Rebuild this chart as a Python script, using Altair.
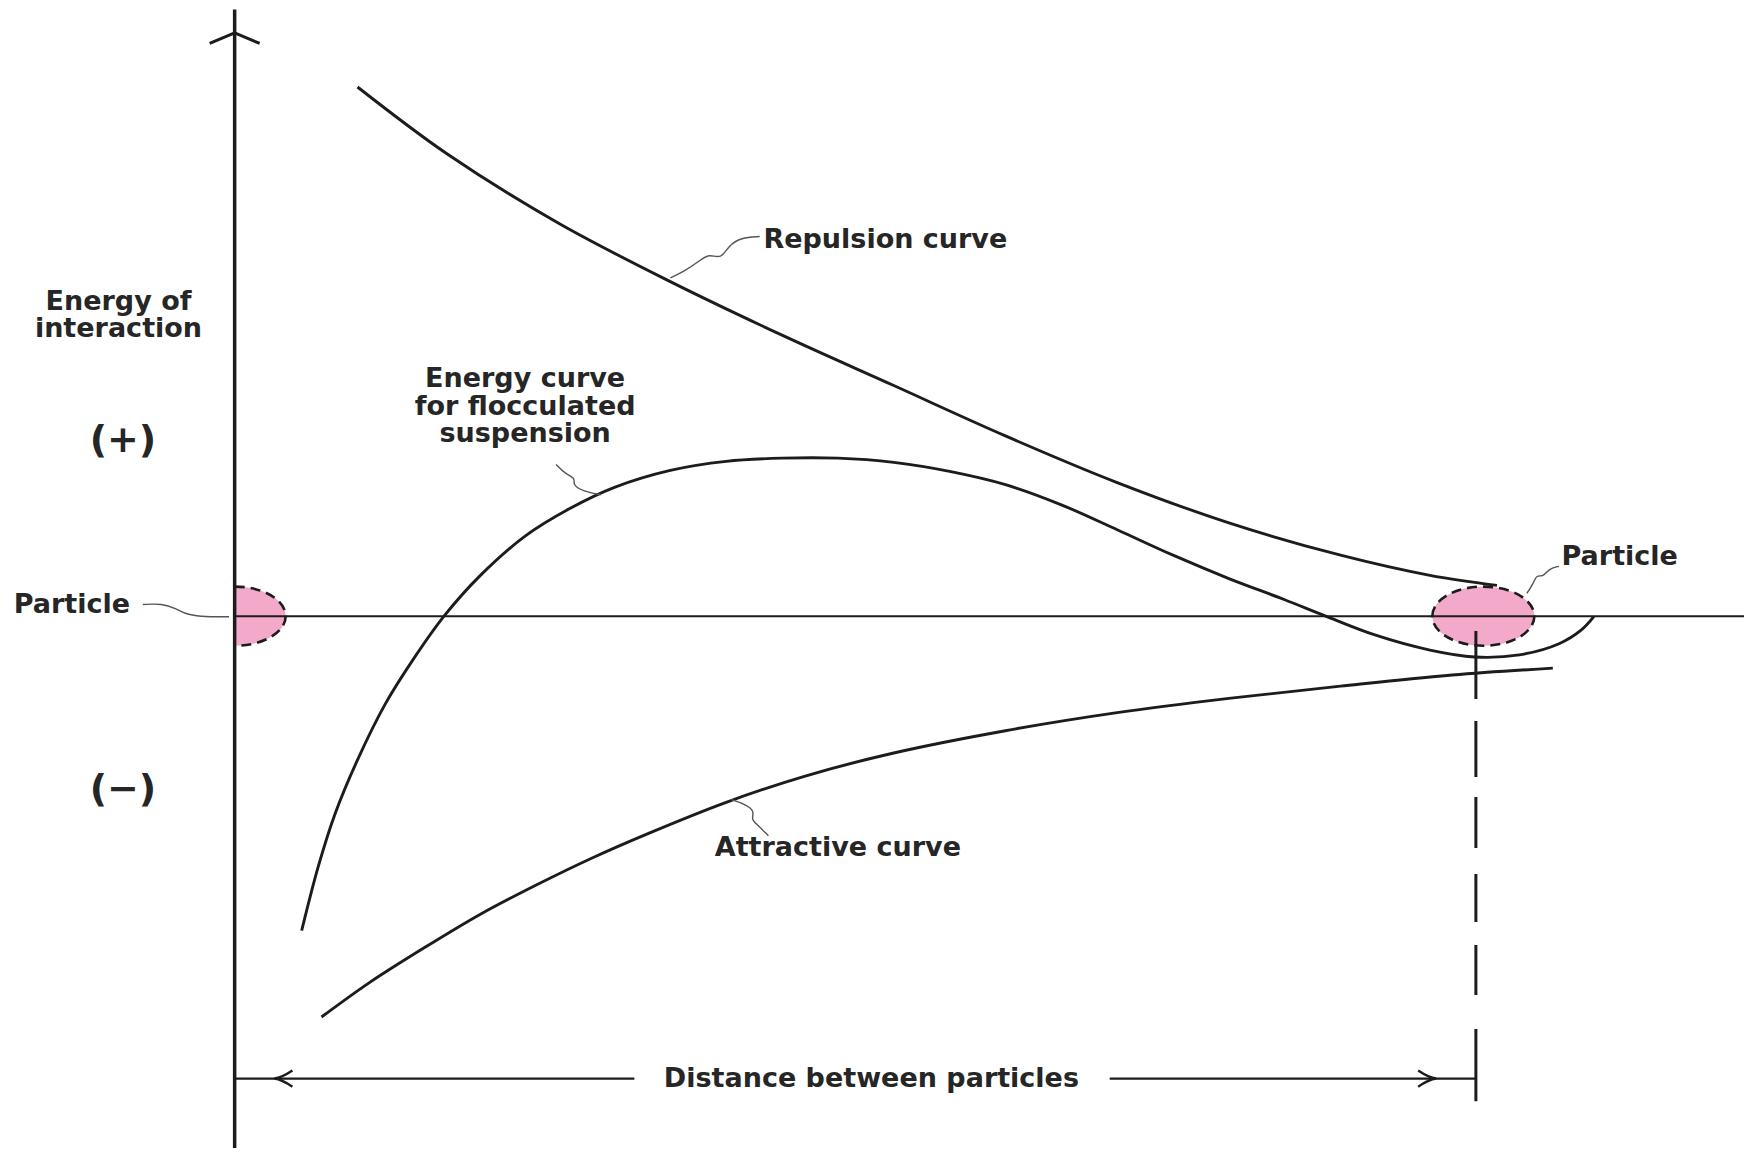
import altair as alt
import pandas as pd

# ---- plot frame (data units: x = distance, y = energy) ----
X_DOMAIN = [-1.826, 12.16]
Y_DOMAIN = [-10.03, 11.47]
AXIS_TOP = 11.44
DIST_END = 10.0

# ---- curves ----
repulsion_x = [0.99, 1.71, 2.61, 3.51, 4.41, 5.31, 6.21, 7.11, 8.01, 8.91, 9.63, 10.17]
repulsion_y = [9.98, 8.72, 7.41, 6.31, 5.30, 4.35, 3.40, 2.52, 1.76, 1.15, 0.77, 0.58]

floc_x = [0.54, 0.675, 0.81, 0.99, 1.215, 1.44, 1.69, 1.98, 2.34, 2.70, 3.06, 3.51, 3.96,
          4.41, 4.86, 5.31, 5.76, 6.21, 6.66, 7.11, 7.56, 8.01, 8.46, 8.78, 9.18, 9.63,
          9.99, 10.35, 10.67, 10.85, 10.95]
floc_y = [-5.93, -4.71, -3.72, -2.71, -1.65, -0.81, 0.01, 0.77, 1.51, 2.03, 2.43, 2.75, 2.92,
          2.98, 2.98, 2.90, 2.73, 2.48, 2.10, 1.63, 1.15, 0.71, 0.31, 0.01, -0.35, -0.64,
          -0.77, -0.73, -0.52, -0.26, -0.01]

attract_x = [0.70, 1.08, 1.53, 1.98, 2.43, 2.88, 3.33, 3.96, 4.59, 5.31, 6.21, 7.11, 8.01, 8.91, 9.81, 10.62]
attract_y = [-7.56, -6.92, -6.25, -5.62, -5.07, -4.56, -4.10, -3.51, -3.02, -2.58, -2.16, -1.82,
             -1.55, -1.32, -1.11, -0.98]

# ---- squiggly leader lines ----
lead_rep_x = [4.23, 4.08, 3.98, 3.92, 3.82, 3.74, 3.62, 3.51]
lead_rep_y = [7.16, 7.14, 6.99, 6.73, 6.84, 6.69, 6.50, 6.38]
lead_floc_x = [2.59, 2.66, 2.75, 2.72, 2.81, 2.95]
lead_floc_y = [2.86, 2.69, 2.60, 2.48, 2.35, 2.29]
lead_att_x = [4.30, 4.21, 4.16, 4.19, 4.12, 4.00]
lead_att_y = [-4.14, -3.93, -3.83, -3.68, -3.55, -3.46]
lead_pl_x = [-0.74, -0.585, -0.47, -0.405, -0.29, -0.045]
lead_pl_y = [0.22, 0.24, 0.14, 0.05, -0.01, -0.01]
lead_pr_x = [10.67, 10.59, 10.54, 10.49, 10.46, 10.41]
lead_pr_y = [0.94, 0.90, 0.73, 0.79, 0.60, 0.43]

# ---- labels ----
center_text = ["Energy of", "interaction", "Energy curve", "for flocculated", "suspension",
               "Attractive curve", "Distance between particles"]
center_x = [-0.936, -0.936, 2.34, 2.34, 2.34, 4.86, 5.13]
center_y = [5.93, 5.41, 4.48, 3.95, 3.43, -4.37, -8.72]
left_text = ["Repulsion curve", "Particle", "Particle"]
left_x = [4.26, -1.78, 10.69]
left_y = [7.09, 0.22, 1.11]
sign_text = ["(+)", "(−)"]
sign_x = [-0.90, -0.90]
sign_y = [3.30, -3.28]

# particles (centres) and arrowheads
particle_x = [10.06]
particle_y = [0.0]
half_particle_x = [0.0]
half_particle_y = [0.0]
DIST_Y = -8.72
dist_seg_x = [0.0, 7.05]
dist_seg_x2 = [3.22, DIST_END]
drop_top, drop_bottom = -0.28, -9.15
drop_dash = [68, 22, 56, 20, 51, 26, 48, 23, 50, 34, 80]

INK = "#1c1c1c"
TXT = "#262626"
PINK = "#F3A9C9"
FONT = "DejaVu Sans"
FS = 27


def xe(field="x"):
    return alt.X(f"{field}:Q", scale=alt.Scale(domain=X_DOMAIN, nice=False, zero=False), axis=None)


def ye(field="y"):
    return alt.Y(f"{field}:Q", scale=alt.Scale(domain=Y_DOMAIN, nice=False, zero=False), axis=None)


def series(pairs):
    rows = []
    for name, xs, ys in pairs:
        for i, (a, b) in enumerate(zip(xs, ys)):
            rows.append({"name": name, "i": i, "x": a, "y": b})
    return pd.DataFrame(rows)


curves_df = series([("Repulsion", repulsion_x, repulsion_y),
                    ("Flocculated", floc_x, floc_y),
                    ("Attractive", attract_x, attract_y)])
leaders_df = series([("rep", lead_rep_x, lead_rep_y), ("floc", lead_floc_x, lead_floc_y),
                     ("att", lead_att_x, lead_att_y), ("pl", lead_pl_x, lead_pl_y),
                     ("pr", lead_pr_x, lead_pr_y)])

ELLIPSE = "M-1,0 A1,0.58 0 1,1 1,0 A1,0.58 0 1,1 -1,0 Z"
HALF_ELLIPSE = "M0,-0.58 A1,0.58 0 0,1 0,0.58 Z"
CHEV_LEFT = "M1,-0.45 Q0.4,-0.05 0,0 Q0.4,0.05 1,0.45"
CHEV_RIGHT = "M-1,-0.45 Q-0.4,-0.05 0,0 Q-0.4,0.05 -1,0.45"
CHEV_UP = "M-1,0.42 L0,0 L1,0.42"

particle = alt.Chart(pd.DataFrame({"x": particle_x, "y": particle_y})).mark_point(
    shape=ELLIPSE, size=10404, filled=True, fill=PINK, fillOpacity=1, opacity=1,
    stroke=INK, strokeWidth=2.6, strokeDash=[10, 6]).encode(x=xe(), y=ye())
half_particle = alt.Chart(pd.DataFrame({"x": half_particle_x, "y": half_particle_y})).mark_point(
    shape=HALF_ELLIPSE, size=10404, filled=True, fill=PINK, fillOpacity=1, opacity=1,
    stroke=INK, strokeWidth=2.6, strokeDash=[10, 6]).encode(x=xe(), y=ye())

zero_line = alt.Chart(pd.DataFrame({"x": [0.0], "x2": [X_DOMAIN[1]], "y": [0.0]})).mark_rule(
    color=INK, strokeWidth=2).encode(x=xe(), x2="x2:Q", y=ye())
y_axis = alt.Chart(pd.DataFrame({"x": [0.0], "y": [AXIS_TOP], "y2": [Y_DOMAIN[0]]})).mark_rule(
    color=INK, strokeWidth=3.5).encode(x=xe(), y=ye(), y2="y2:Q")
drop_line = alt.Chart(pd.DataFrame({"x": [DIST_END], "y": [drop_top], "y2": [drop_bottom]})).mark_rule(
    color=INK, strokeWidth=3, strokeDash=drop_dash).encode(x=xe(), y=ye(), y2="y2:Q")
dist_line = alt.Chart(pd.DataFrame({"x": dist_seg_x, "x2": dist_seg_x2, "y": [DIST_Y] * 2})).mark_rule(
    color=INK, strokeWidth=2.2).encode(x=xe(), x2="x2:Q", y=ye())

curves = alt.Chart(curves_df).mark_line(color=INK, strokeWidth=2.9, interpolate="catmull-rom").encode(
    x=xe(), y=ye(), detail="name:N", order="i:Q")
leaders = alt.Chart(leaders_df).mark_line(color="#555555", strokeWidth=1.4, interpolate="basis").encode(
    x=xe(), y=ye(), detail="name:N", order="i:Q")

arrow_l = alt.Chart(pd.DataFrame({"x": [0.32], "y": [DIST_Y]})).mark_point(
    shape=CHEV_LEFT, size=1296, filled=False, stroke=INK, strokeWidth=2.4, opacity=1).encode(x=xe(), y=ye())
arrow_r = alt.Chart(pd.DataFrame({"x": [9.68], "y": [DIST_Y]})).mark_point(
    shape=CHEV_RIGHT, size=1296, filled=False, stroke=INK, strokeWidth=2.4, opacity=1).encode(x=xe(), y=ye())
arrow_up = alt.Chart(pd.DataFrame({"x": [0.0], "y": [11.0]})).mark_point(
    shape=CHEV_UP, size=2500, filled=False, stroke=INK, strokeWidth=3, opacity=1).encode(x=xe(), y=ye())

labels_c = alt.Chart(pd.DataFrame({"x": center_x, "y": center_y, "t": center_text})).mark_text(
    font=FONT, fontSize=FS, fontWeight="bold", color=TXT, align="center", baseline="middle").encode(
    x=xe(), y=ye(), text="t:N")
labels_l = alt.Chart(pd.DataFrame({"x": left_x, "y": left_y, "t": left_text})).mark_text(
    font=FONT, fontSize=FS, fontWeight="bold", color=TXT, align="left", baseline="middle").encode(
    x=xe(), y=ye(), text="t:N")
signs = alt.Chart(pd.DataFrame({"x": sign_x, "y": sign_y, "t": sign_text})).mark_text(
    font=FONT, fontSize=38, fontWeight="bold", color=TXT, align="center", baseline="middle").encode(
    x=xe(), y=ye(), text="t:N")

chart = alt.layer(
    particle, half_particle, zero_line, drop_line, dist_line, curves, leaders,
    arrow_l, arrow_r, y_axis, arrow_up, labels_c, labels_l, signs
).properties(
    width=1736, height=1140, autosize=alt.AutoSizeParams(type="none"), padding=0, background="white"
).configure_view(stroke=None)

chart.save("out.html", embed_options={"renderer": "svg", "actions": False})
